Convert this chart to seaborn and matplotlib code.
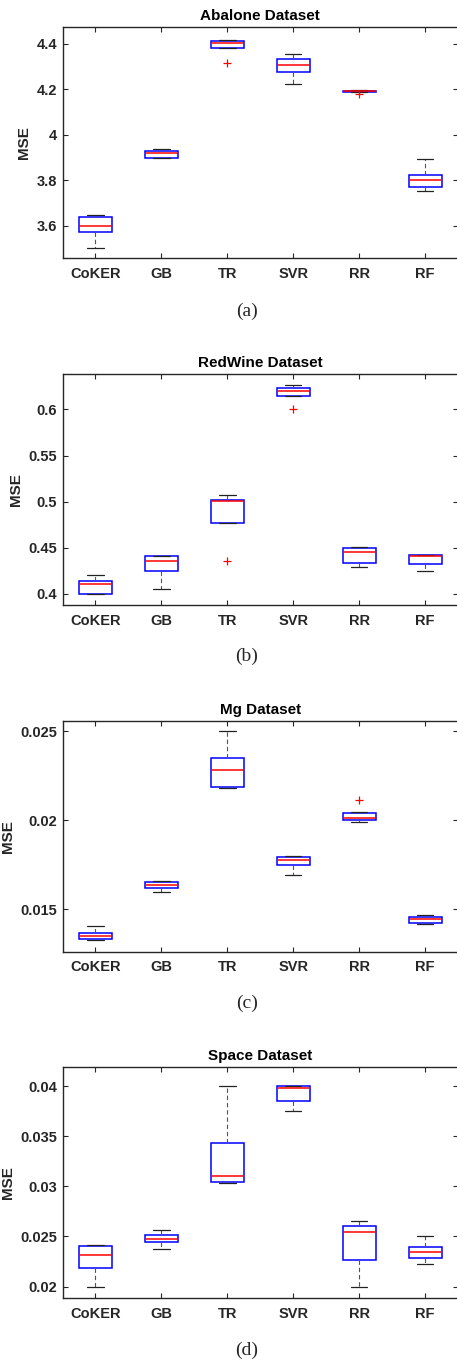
import pandas as pd
import matplotlib.pyplot as plt
import seaborn as sns

# models compared in every panel
models = ['CoKER', 'GB', 'TR', 'SVR', 'RR', 'RF']

# MSE of the repeated runs, one list per model
abalone = [
    [3.505, 3.561, 3.574, 3.588, 3.600, 3.621, 3.638, 3.643, 3.647],
    [3.896, 3.898, 3.899, 3.912, 3.921, 3.924, 3.927, 3.931, 3.936],
    [4.315, 4.380, 4.380, 4.392, 4.404, 4.410, 4.413, 4.414, 4.415],
    [4.223, 4.258, 4.277, 4.291, 4.307, 4.318, 4.331, 4.342, 4.353],
    [4.178, 4.188, 4.188, 4.190, 4.192, 4.193, 4.194, 4.195, 4.195],
    [3.752, 3.763, 3.771, 3.788, 3.801, 3.812, 3.825, 3.860, 3.892],
]
redwine = [
    [0.3995, 0.3998, 0.4000, 0.4062, 0.4108, 0.4121, 0.4133, 0.4170, 0.4202],
    [0.4047, 0.4160, 0.4241, 0.4310, 0.4353, 0.4380, 0.4404, 0.4404, 0.4405],
    [0.4353, 0.4764, 0.4764, 0.4890, 0.5002, 0.5010, 0.5016, 0.5050, 0.5074],
    [0.6010, 0.6148, 0.6148, 0.6180, 0.6202, 0.6220, 0.6232, 0.6250, 0.6263],
    [0.4285, 0.4310, 0.4335, 0.4400, 0.4454, 0.4480, 0.4501, 0.4501, 0.4502],
    [0.4245, 0.4290, 0.4324, 0.4370, 0.4404, 0.4412, 0.4422, 0.4422, 0.4423],
]
mg = [
    [0.01328, 0.01332, 0.01335, 0.01341, 0.01348, 0.01358, 0.01369, 0.01385, 0.01406],
    [0.01597, 0.01610, 0.01620, 0.01630, 0.01639, 0.01645, 0.01652, 0.01656, 0.01659],
    [0.02182, 0.02186, 0.02189, 0.02240, 0.02283, 0.02320, 0.02352, 0.02420, 0.02502],
    [0.01690, 0.01725, 0.01748, 0.01765, 0.01779, 0.01786, 0.01791, 0.01796, 0.01800],
    [0.01989, 0.01994, 0.01999, 0.02005, 0.02011, 0.02030, 0.02043, 0.02044, 0.02112],
    [0.01416, 0.01420, 0.01425, 0.01437, 0.01448, 0.01454, 0.01459, 0.01464, 0.01468],
]
space = [
    [0.01993, 0.02100, 0.02189, 0.02260, 0.02312, 0.02360, 0.02402, 0.02408, 0.02412],
    [0.02372, 0.02410, 0.02445, 0.02462, 0.02479, 0.02500, 0.02519, 0.02545, 0.02569],
    [0.03031, 0.03038, 0.03045, 0.03070, 0.03101, 0.03250, 0.03437, 0.03700, 0.04000],
    [0.03750, 0.03800, 0.03850, 0.03920, 0.03980, 0.03990, 0.04000, 0.04004, 0.04007],
    [0.01993, 0.02130, 0.02262, 0.02400, 0.02542, 0.02580, 0.02605, 0.02630, 0.02652],
    [0.02222, 0.02260, 0.02289, 0.02320, 0.02342, 0.02370, 0.02396, 0.02450, 0.02502],
]

titles = ['Abalone Dataset', 'RedWine Dataset', 'Mg Dataset', 'Space Dataset']
captions = ['(a)', '(b)', '(c)', '(d)']
yticks = [
    [3.6, 3.8, 4.0, 4.2, 4.4],
    [0.4, 0.45, 0.5, 0.55, 0.6],
    [0.015, 0.02, 0.025],
    [0.02, 0.025, 0.03, 0.035, 0.04],
]
ylims = [(3.458, 4.472), (0.3874, 0.6382), (0.01262, 0.0256), (0.01883, 0.0419)]

sns.set_style('ticks')
plt.rcParams['font.family'] = ['Liberation Sans', 'DejaVu Sans']
plt.rcParams['font.weight'] = 'bold'

fig = plt.figure(figsize=(4.57, 13.62), dpi=100)
bottoms = [0.8104, 0.5556, 0.3013, 0.0468]
cap_y = [0.7717, 0.5178, 0.2636, 0.0083]
dark = '#262626'

for i, runs in enumerate([abalone, redwine, mg, space]):
    ax = fig.add_axes([0.1368, bottoms[i], 0.8654, 0.1696])
    df = pd.DataFrame({
        'Model': [m for m, r in zip(models, runs) for _ in r],
        'MSE': [v for r in runs for v in r],
    })
    sns.boxplot(data=df, x='Model', y='MSE', order=models, ax=ax,
                width=0.5, whis=1.5, color='white', linecolor='blue', linewidth=1.0,
                boxprops=dict(edgecolor='blue', facecolor='white', linewidth=1.1),
                medianprops=dict(color='red', linewidth=1.1),
                whiskerprops=dict(color='#555555', linestyle=(0, (4, 2.5)), linewidth=0.8),
                capprops=dict(color='#222222', linewidth=0.9),
                flierprops=dict(marker='+', markeredgecolor='red', markersize=6,
                                markeredgewidth=0.9))
    ax.set_ylim(*ylims[i])
    ax.set_yticks(yticks[i])
    ax.set_yticklabels([f'{t:g}' for t in yticks[i]])
    ax.tick_params(direction='in', length=3.5, width=0.8, top=True, right=True,
                   labelsize=10.5, colors=dark, labelcolor=dark)
    ax.tick_params(axis='x', pad=6)
    ax.tick_params(axis='y', pad=4)
    for s in ax.spines.values():
        s.set_color(dark)
        s.set_linewidth(1.0)
    ax.set_xlabel('')
    ax.set_ylabel('MSE', fontsize=11, fontweight='bold', color=dark, labelpad=4)
    ax.set_title(titles[i], fontsize=11, fontweight='bold', color='black', pad=5)
    fig.text(0.540, cap_y[i], captions[i], ha='center', va='center',
             family='Liberation Serif', fontsize=14, fontweight='normal')

fig.savefig('out.png', dpi=100)
